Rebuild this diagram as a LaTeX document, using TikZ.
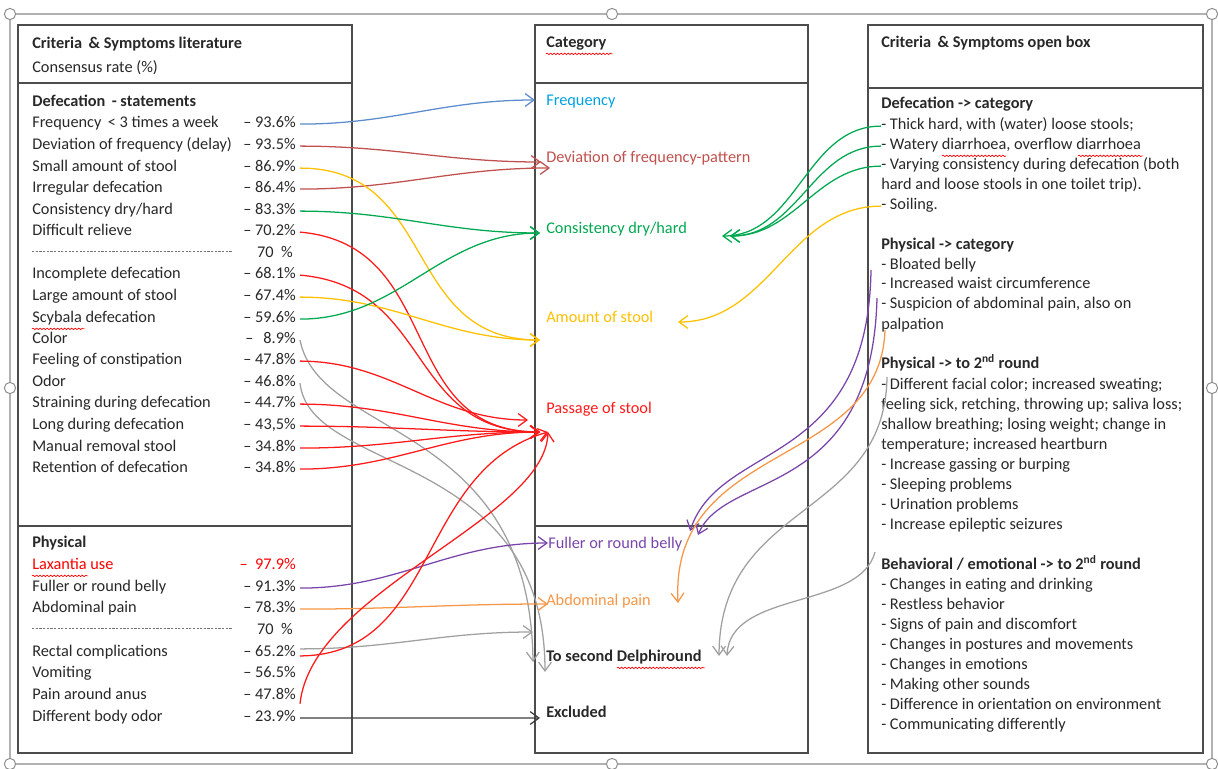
\documentclass[tikz,border=0pt]{standalone}
\usepackage{fontspec}
\setmainfont{Carlito}
\usetikzlibrary{arrows.meta,decorations.pathmorphing}

\definecolor{linkblue}{RGB}{91,140,205}
\definecolor{freqblue}{RGB}{0,160,225}
\definecolor{rosered}{RGB}{192,80,77}
\definecolor{stoolgreen}{RGB}{0,168,80}
\definecolor{amber}{RGB}{255,192,0}
\definecolor{passred}{RGB}{255,25,25}
\definecolor{bellypurple}{RGB}{120,70,170}
\definecolor{painorange}{RGB}{247,150,70}
\definecolor{roundgray}{RGB}{160,160,160}
\definecolor{exclgray}{RGB}{60,60,60}
\definecolor{inktext}{RGB}{40,40,40}

\begin{document}
\begin{tikzpicture}[x=0.025cm,y=0.025cm,
  panel/.style={draw=black!70,line width=1.1pt},
  txt/.style={anchor=west,inner sep=0pt,text height=8pt,text depth=2.5pt,
    yshift=-1.5pt,font=\fontsize{11.6}{14}\selectfont,text=inktext},
  hdr/.style={txt,font=\fontsize{11.6}{14}\selectfont\bfseries},
  val/.style={txt,anchor=east,outer xsep=3pt},
  link/.style={line width=0.9pt,-{Straight Barb[length=2.2mm,width=3.2mm]}},
  squig/.style={red,line width=0.5pt,decorate,
    decoration={snake,amplitude=0.5pt,segment length=2.5pt}}]

\useasboundingbox (0,0) rectangle (1218,-769);

% frame of the picture with its handles
\draw[black!30,line width=1.4pt] (10,-14) rectangle (1212,-764);
\foreach \hx/\hy in {10/14,612/14,1212/14,10/388,1212/388,10/764,612/764,1212/764}
  \draw[black!45,fill=white,line width=0.7pt] (\hx,-\hy) circle[radius=4pt];

% the three panels
\draw[panel] (18,-25) rectangle (352,-753);
\draw[panel] (18,-83) -- (352,-83);
\draw[panel] (18,-526) -- (352,-526);
\draw[panel] (535,-25) rectangle (808,-753);
\draw[panel] (535,-83) -- (808,-83);
\draw[panel] (535,-526) -- (808,-526);
\draw[panel] (868,-25) rectangle (1203,-753);
\draw[panel] (868,-88) -- (1203,-88);

% left panel: literature
\node[hdr] (lhead) at (32,-43) {Criteria \,\& Symptoms literature};
\node[txt] (lrate) at (32,-67) {Consensus rate (\%)};
\node[hdr] (ldef) at (32,-101) {Defecation \,- statements};
\foreach \i/\y/\t/\v in {
  1/122/{Frequency \,< 3 times a week}/{93.6},
  2/144/{Deviation of frequency (delay)}/{93.5},
  3/166/{Small amount of stool}/{86.9},
  4/187/{Irregular defecation}/{86.4},
  5/209/{Consistency dry/hard}/{83.3},
  6/230/{Difficult relieve}/{70.2},
  7/273/{Incomplete defecation}/{68.1},
  8/295/{Large amount of stool}/{67.4},
  9/317/{Scybala defecation}/{59.6},
  10/338/{Color}/{\ \,8.9},
  11/359/{Feeling of constipation}/{47.8},
  12/381/{Odor}/{46.8},
  13/402/{Straining during defecation}/{44.7},
  14/424/{Long during defecation}/{43,5},
  15/446/{Manual removal stool}/{34.8},
  16/467/{Retention of defecation}/{34.8},
  18/586/{Fuller or round belly}/{91.3},
  19/607/{Abdominal pain}/{78.3},
  20/651/{Rectal complications}/{65.2},
  21/672/{Vomiting}/{56.5},
  22/694/{Pain around anus}/{47.8},
  23/716/{Different body odor}/{23.9}}
{
  \node[txt] (l\i) at (32,-\y) {\t};
  \node[val] (v\i) at (300,-\y) {– \v\%};
}
\node[hdr] (lphys) at (32,-542) {Physical};
\node[txt,text=red] (l17) at (32,-564) {Laxantia use};
\node[val,text=red] (v17) at (300,-564) {– \ 97.9\%};
\draw[black!55,dash pattern=on 1.6pt off 1pt] (32,-251) -- (232,-251);
\node[val] (cut1) at (297,-252) {70 \ \%};
\draw[black!55,dash pattern=on 1.6pt off 1pt] (32,-628) -- (232,-628);
\node[val] (cut2) at (297,-629) {70 \ \%};

% centre panel: categories
\node[hdr] (chead) at (546,-42) {Category};
\node[txt,text=freqblue] (cfrq) at (546,-100) {Frequency};
\node[txt,text=rosered] (cdev) at (546,-157) {Deviation of frequency-pattern};
\node[txt,text=stoolgreen] (ccon) at (546,-228) {Consistency dry/hard};
\node[txt,text=amber] (camt) at (546,-317) {Amount of stool};
\node[txt,text=passred] (cpas) at (546,-408) {Passage of stool};
\node[txt,text=bellypurple] (cful) at (548,-543) {Fuller or round belly};
\node[txt,text=painorange] (cabd) at (546,-600) {Abdominal pain};
\node[hdr] (csnd) at (546,-656) {To second Delphiround};
\node[hdr] (cexc) at (546,-712) {Excluded};

% right panel: open box
\node[hdr] (rhead) at (881,-42) {Criteria \,\& Symptoms open box};
\node[hdr] (r1) at (881,-103) {Defecation -> category};
\node[hdr] (r7) at (881,-244) {Physical -> category};
\node[hdr] (r12) at (881,-363) {Physical -> to 2\textsuperscript{nd} round};
\node[hdr] (r21) at (881,-564) {Behavioral / emotional -> to 2\textsuperscript{nd} round};
\foreach \i/\y/\t in {
  2/124/{- Thick hard, with (water) loose stools;},
  3/144/{- Watery diarrhoea, overflow diarrhoea},
  4/164/{- Varying consistency during defecation (both},
  5/184/{hard and loose stools in one toilet trip).},
  6/204/{- Soiling.},
  8/264/{- Bloated belly},
  9/283/{- Increased waist circumference},
  10/303/{- Suspicion of abdominal pain, also on},
  11/324/{palpation},
  13/384/{- Different facial color; increased sweating;},
  14/404/{feeling sick, retching, throwing up; saliva loss;},
  15/424/{shallow breathing; losing weight; change in},
  16/444/{temperature; increased heartburn},
  17/464/{- Increase gassing or burping},
  18/484/{- Sleeping problems},
  19/504/{- Urination problems},
  20/524/{- Increase epileptic seizures},
  22/584/{- Changes in eating and drinking},
  23/604/{- Restless behavior},
  24/624/{- Signs of pain and discomfort},
  25/644/{- Changes in postures and movements},
  26/664/{- Changes in emotions},
  27/684/{- Making other sounds},
  28/704/{- Difference in orientation on environment},
  29/724/{- Communicating differently}}
  \node[txt] (r\i) at (881,-\y) {\t};

% spelling marks
\draw[squig] ([yshift=-1.5pt]l9.south west) -- ++(53,0);
\draw[squig] ([yshift=-1.5pt]l17.south west) -- ++(56,0);
\draw[squig] ([yshift=-1.5pt]chead.south west) -- ++(67,0);
\draw[squig] ([yshift=-1.5pt]csnd.south west) ++(71,0) -- ++(88,0);
\draw[squig] ([yshift=-1.5pt]r3.south west) ++(61,0) -- ++(64,0);
\draw[squig] ([yshift=-1.5pt]r3.south west) ++(197,0) -- ++(65,0);

% arrow ends in the centre panel
\coordinate (frq) at (535,-100);
\coordinate (dev1) at (541,-162);
\coordinate (dev2) at (550,-168);
\coordinate (con) at (540,-233);
\coordinate (amt) at (540,-340);
\coordinate (pas0) at (528,-420);
\coordinate (pas) at (540,-432);
\coordinate (pas2) at (548,-432);
\coordinate (ful) at (548,-543);
\coordinate (abd) at (548,-604);
\coordinate (sec) at (533,-632);
\coordinate (snd1) at (533,-662);
\coordinate (snd2) at (545,-672);
\coordinate (exc) at (540,-718);
\coordinate (conr1) at (722,-236);
\coordinate (conr2) at (730,-236);
\coordinate (amtr) at (678,-322);
\coordinate (fulr1) at (690,-531);
\coordinate (fulr2) at (698,-535);
\coordinate (abdr) at (678,-603);
\coordinate (sndr1) at (719,-656);
\coordinate (sndr2) at (727,-656);
% free starts at the right panel
\coordinate (pur1) at (871,-270);
\coordinate (pur2) at (877,-298);
\coordinate (ora1) at (885,-330);
\coordinate (gry1) at (887,-377);
\coordinate (gry2) at (875,-552);

% literature -> category
\draw[link,linkblue] (v1.east) to[out=0,in=180] (frq);
\draw[link,rosered] (v2.east) to[out=0,in=180] (dev1);
\draw[link,rosered] (v4.east) to[out=0,in=180] (dev2);
\draw[link,amber] (v3.east) to[out=0,in=180,looseness=1.2] (amt);
\draw[link,stoolgreen] (v5.east) to[out=0,in=180] (con);
\draw[link,passred] (v6.east) to[out=-5,in=180,looseness=1.2] (pas);
\draw[link,passred] (v7.east) to[out=-5,in=180,looseness=1.2] (pas);
\draw[link,amber] (v8.east) to[out=0,in=180] (amt);
\draw[link,stoolgreen] (v9.east) to[out=0,in=180] (con);
\draw[link,roundgray] (v10.east) .. controls (320,-440) and (530,-420) .. (snd1);
\draw[link,passred] (v11.east) to[out=0,in=180] (pas0);
\draw[link,roundgray] (v12.east) .. controls (310,-475) and (545,-450) .. (snd2);
\draw[link,passred] (v13.east) to[out=0,in=180] (pas);
\draw[link,passred] (v14.east) to[out=0,in=180] (pas);
\draw[link,passred] (v15.east) to[out=0,in=180] (pas);
\draw[link,passred] (v16.east) to[out=0,in=180] (pas);
\draw[link,bellypurple] (v18.east) to[out=0,in=180] (ful);
\draw[link,painorange] (v19.east) to[out=0,in=180] (abd);
\draw[link,roundgray] ([yshift=3pt]v20.east) to[out=0,in=180] (sec);
\draw[link,passred] ([yshift=-2pt]v20.east) .. controls (440,-655) and (415,-470) .. (pas2);
\draw[link,passred] (v22.south east) .. controls (312,-590) and (545,-520) .. (pas2);
\draw[link,exclgray] (v23.east) to[out=0,in=180] (exc);

% open box -> category
\draw[link,stoolgreen] (r2.west) to[out=180,in=0] (conr1);
\draw[link,stoolgreen] (r3.west) to[out=180,in=0] (conr2);
\draw[link,stoolgreen] (r4.west) to[out=180,in=0] (conr2);
\draw[link,amber] (r6.west) to[out=180,in=0] (amtr);
\draw[link,bellypurple] (pur1) .. controls (868,-470) and (720,-440) .. (fulr1);
\draw[link,bellypurple] (pur2) .. controls (872,-500) and (725,-470) .. (fulr2);
\draw[link,painorange] (ora1) .. controls (880,-470) and (670,-440) .. (abdr);
\draw[link,roundgray] (gry1) .. controls (885,-520) and (720,-500) .. (sndr1);
\draw[link,roundgray] (gry2) .. controls (860,-610) and (730,-590) .. (sndr2);
\end{tikzpicture}
\end{document}
